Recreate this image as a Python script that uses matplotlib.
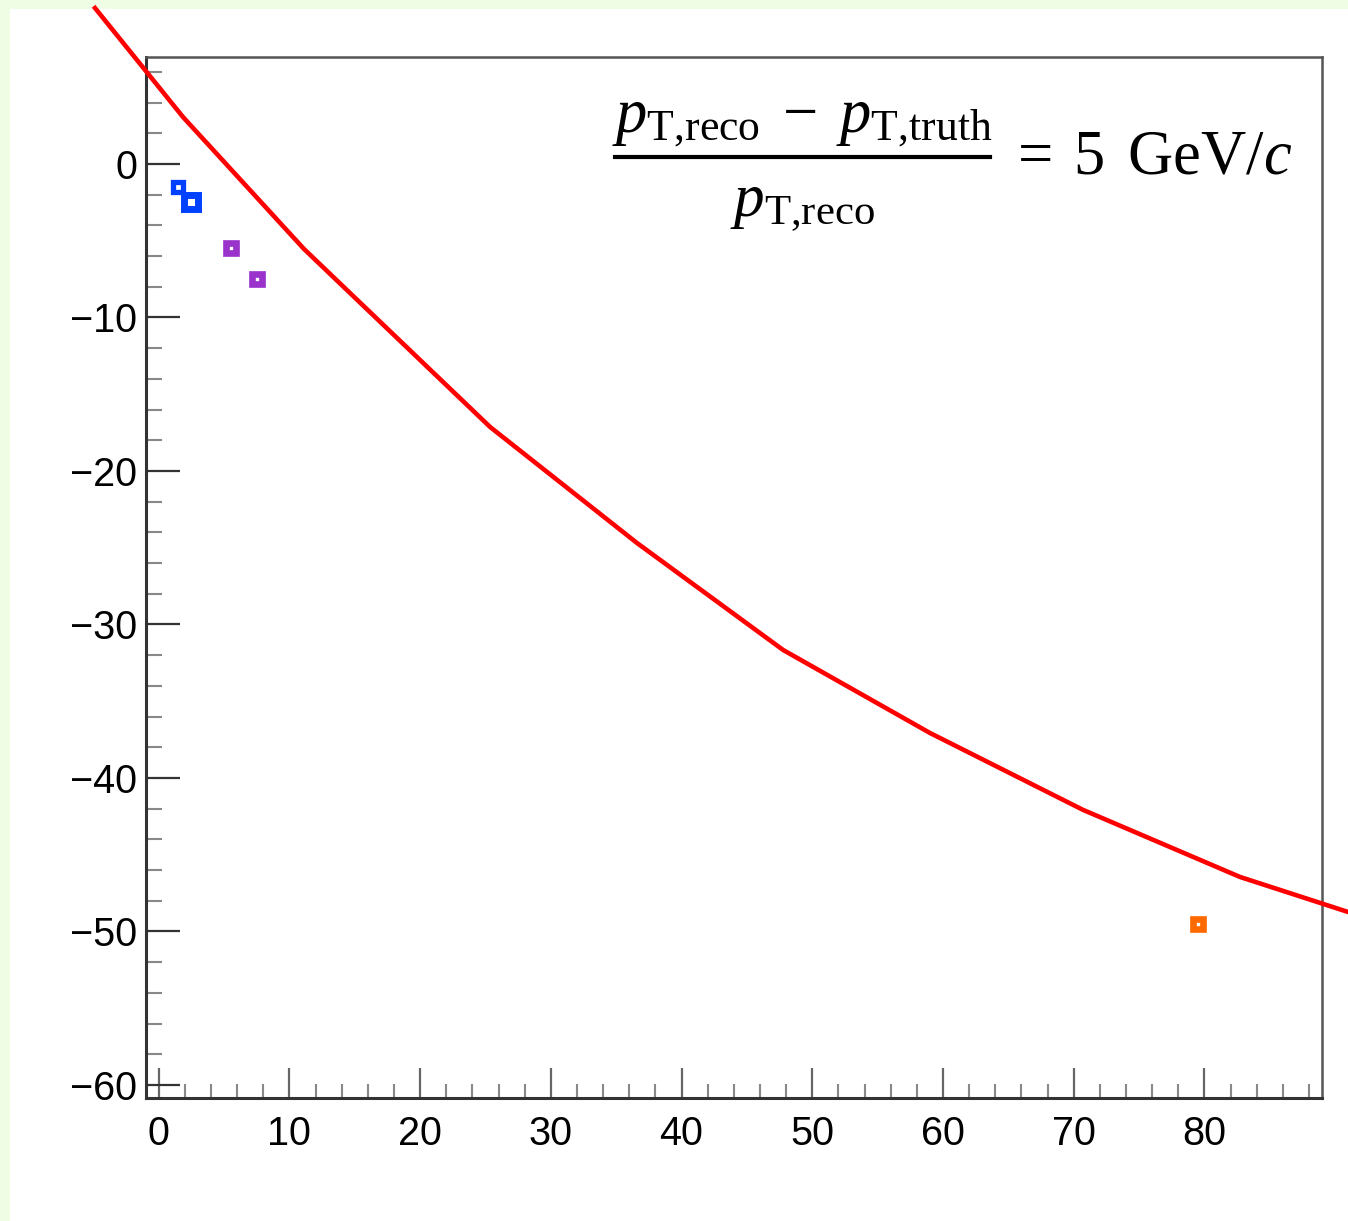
import numpy as np
import matplotlib
matplotlib.use('Agg')
import matplotlib.pyplot as plt
from matplotlib.patches import Rectangle
from matplotlib.lines import Line2D
from matplotlib.ticker import MultipleLocator

# red reference curve
curve_x = [-4.87, 1.86, 11.12, 25.35, 36.59, 47.77, 59.01, 70.72, 82.73, 90.99]
curve_y = [10.16, 3.06, -5.54, -17.13, -24.69, -31.66, -37.07, -42.08, -46.45, -48.73]

# markers
blue_x = [1.5, 2.5]
blue_y = [-1.5, -2.5]
purple_x = [5.5, 7.5]
purple_y = [-5.5, -7.5]
orange_x = [79.5]
orange_y = [-49.5]

x_ticks = [0, 10, 20, 30, 40, 50, 60, 70, 80]
y_ticks = [0, -10, -20, -30, -40, -50, -60]

plt.rcParams['font.family'] = ['Liberation Sans', 'DejaVu Sans']
plt.rcParams['mathtext.fontset'] = 'custom'
plt.rcParams['mathtext.rm'] = 'Liberation Serif'
plt.rcParams['mathtext.it'] = 'Liberation Serif:italic'
plt.rcParams['mathtext.bf'] = 'Liberation Serif:bold'

W, H = 1348, 1221
fig = plt.figure(figsize=(W / 100, H / 100), dpi=100)
fig.patch.set_facecolor('#effde4')

canvas = Rectangle((10 / W, 0), 1, (H - 9) / H, transform=fig.transFigure,
                   facecolor='white', edgecolor='none', zorder=-10)
fig.patches.append(canvas)

ax = fig.add_axes([146 / W, 1 - 1098 / H, (1322 - 146) / W, (1098 - 57) / H])
ax.set_facecolor('none')
ax.set_xlim(-0.97, 89.0)
ax.set_ylim(-60.85, 6.97)

line, = ax.plot(curve_x, curve_y, color='#ff0000', lw=3.3, clip_on=False, zorder=3)
line.set_clip_path(canvas)

ax.plot(blue_x[:1], blue_y[:1], 's', ms=7.5, mew=3.8, mfc='none', mec='#0040ff',
        clip_on=False, zorder=4)
ax.plot(blue_x[1:], blue_y[1:], 's', ms=10, mew=5, mfc='none', mec='#0040ff',
        clip_on=False, zorder=4)
ax.plot(purple_x, purple_y, 's', ms=6.8, mew=4.8, mfc='none', mec='#9933cc',
        clip_on=False, zorder=4)
ax.plot(orange_x, orange_y, 's', ms=7, mew=4.8, mfc='none', mec='#ff6a00',
        clip_on=False, zorder=4)

ax.set_xticks(x_ticks)
ax.set_yticks(y_ticks)
ax.xaxis.set_minor_locator(MultipleLocator(2))
ax.yaxis.set_minor_locator(MultipleLocator(2))

ax.tick_params(axis='both', which='both', direction='in', labelsize=28.5)
ax.tick_params(axis='y', which='major', length=24.5, width=1.6, color='#333333', pad=6.5)
ax.tick_params(axis='y', which='minor', length=11.5, width=1.5, color='#888888')
ax.tick_params(axis='x', which='major', length=21.5, width=1.6, color='#666666', pad=12)
ax.tick_params(axis='x', which='minor', length=10, width=1.5, color='#888888')

for s in ['left', 'bottom']:
    ax.spines[s].set_linewidth(2.2)
    ax.spines[s].set_color('#333333')
for s in ['top', 'right']:
    ax.spines[s].set_linewidth(1.8)
    ax.spines[s].set_color('#555555')

# formula in the top right corner
num = r'$p_{\mathrm{T{,}reco}}\;-\;p_{\mathrm{T{,}truth}}$'
den = r'$p_{\mathrm{T{,}reco}}$'
fig.text(802 / W, 1 - 120 / H, num, ha='center', va='center', fontsize=45)
fig.text(802 / W, 1 - 205 / H, den, ha='center', va='center', fontsize=44)
fig.add_artist(Line2D([615 / W, 990 / W], [1 - 157 / H, 1 - 157 / H],
                      transform=fig.transFigure, color='black', lw=3))
fig.text(1008 / W, 1 - 157 / H, r'$=\;5\ \,\mathrm{GeV}/c$', ha='left', va='center',
         fontsize=45)

fig.savefig('out.png', dpi=100, facecolor=fig.get_facecolor())
